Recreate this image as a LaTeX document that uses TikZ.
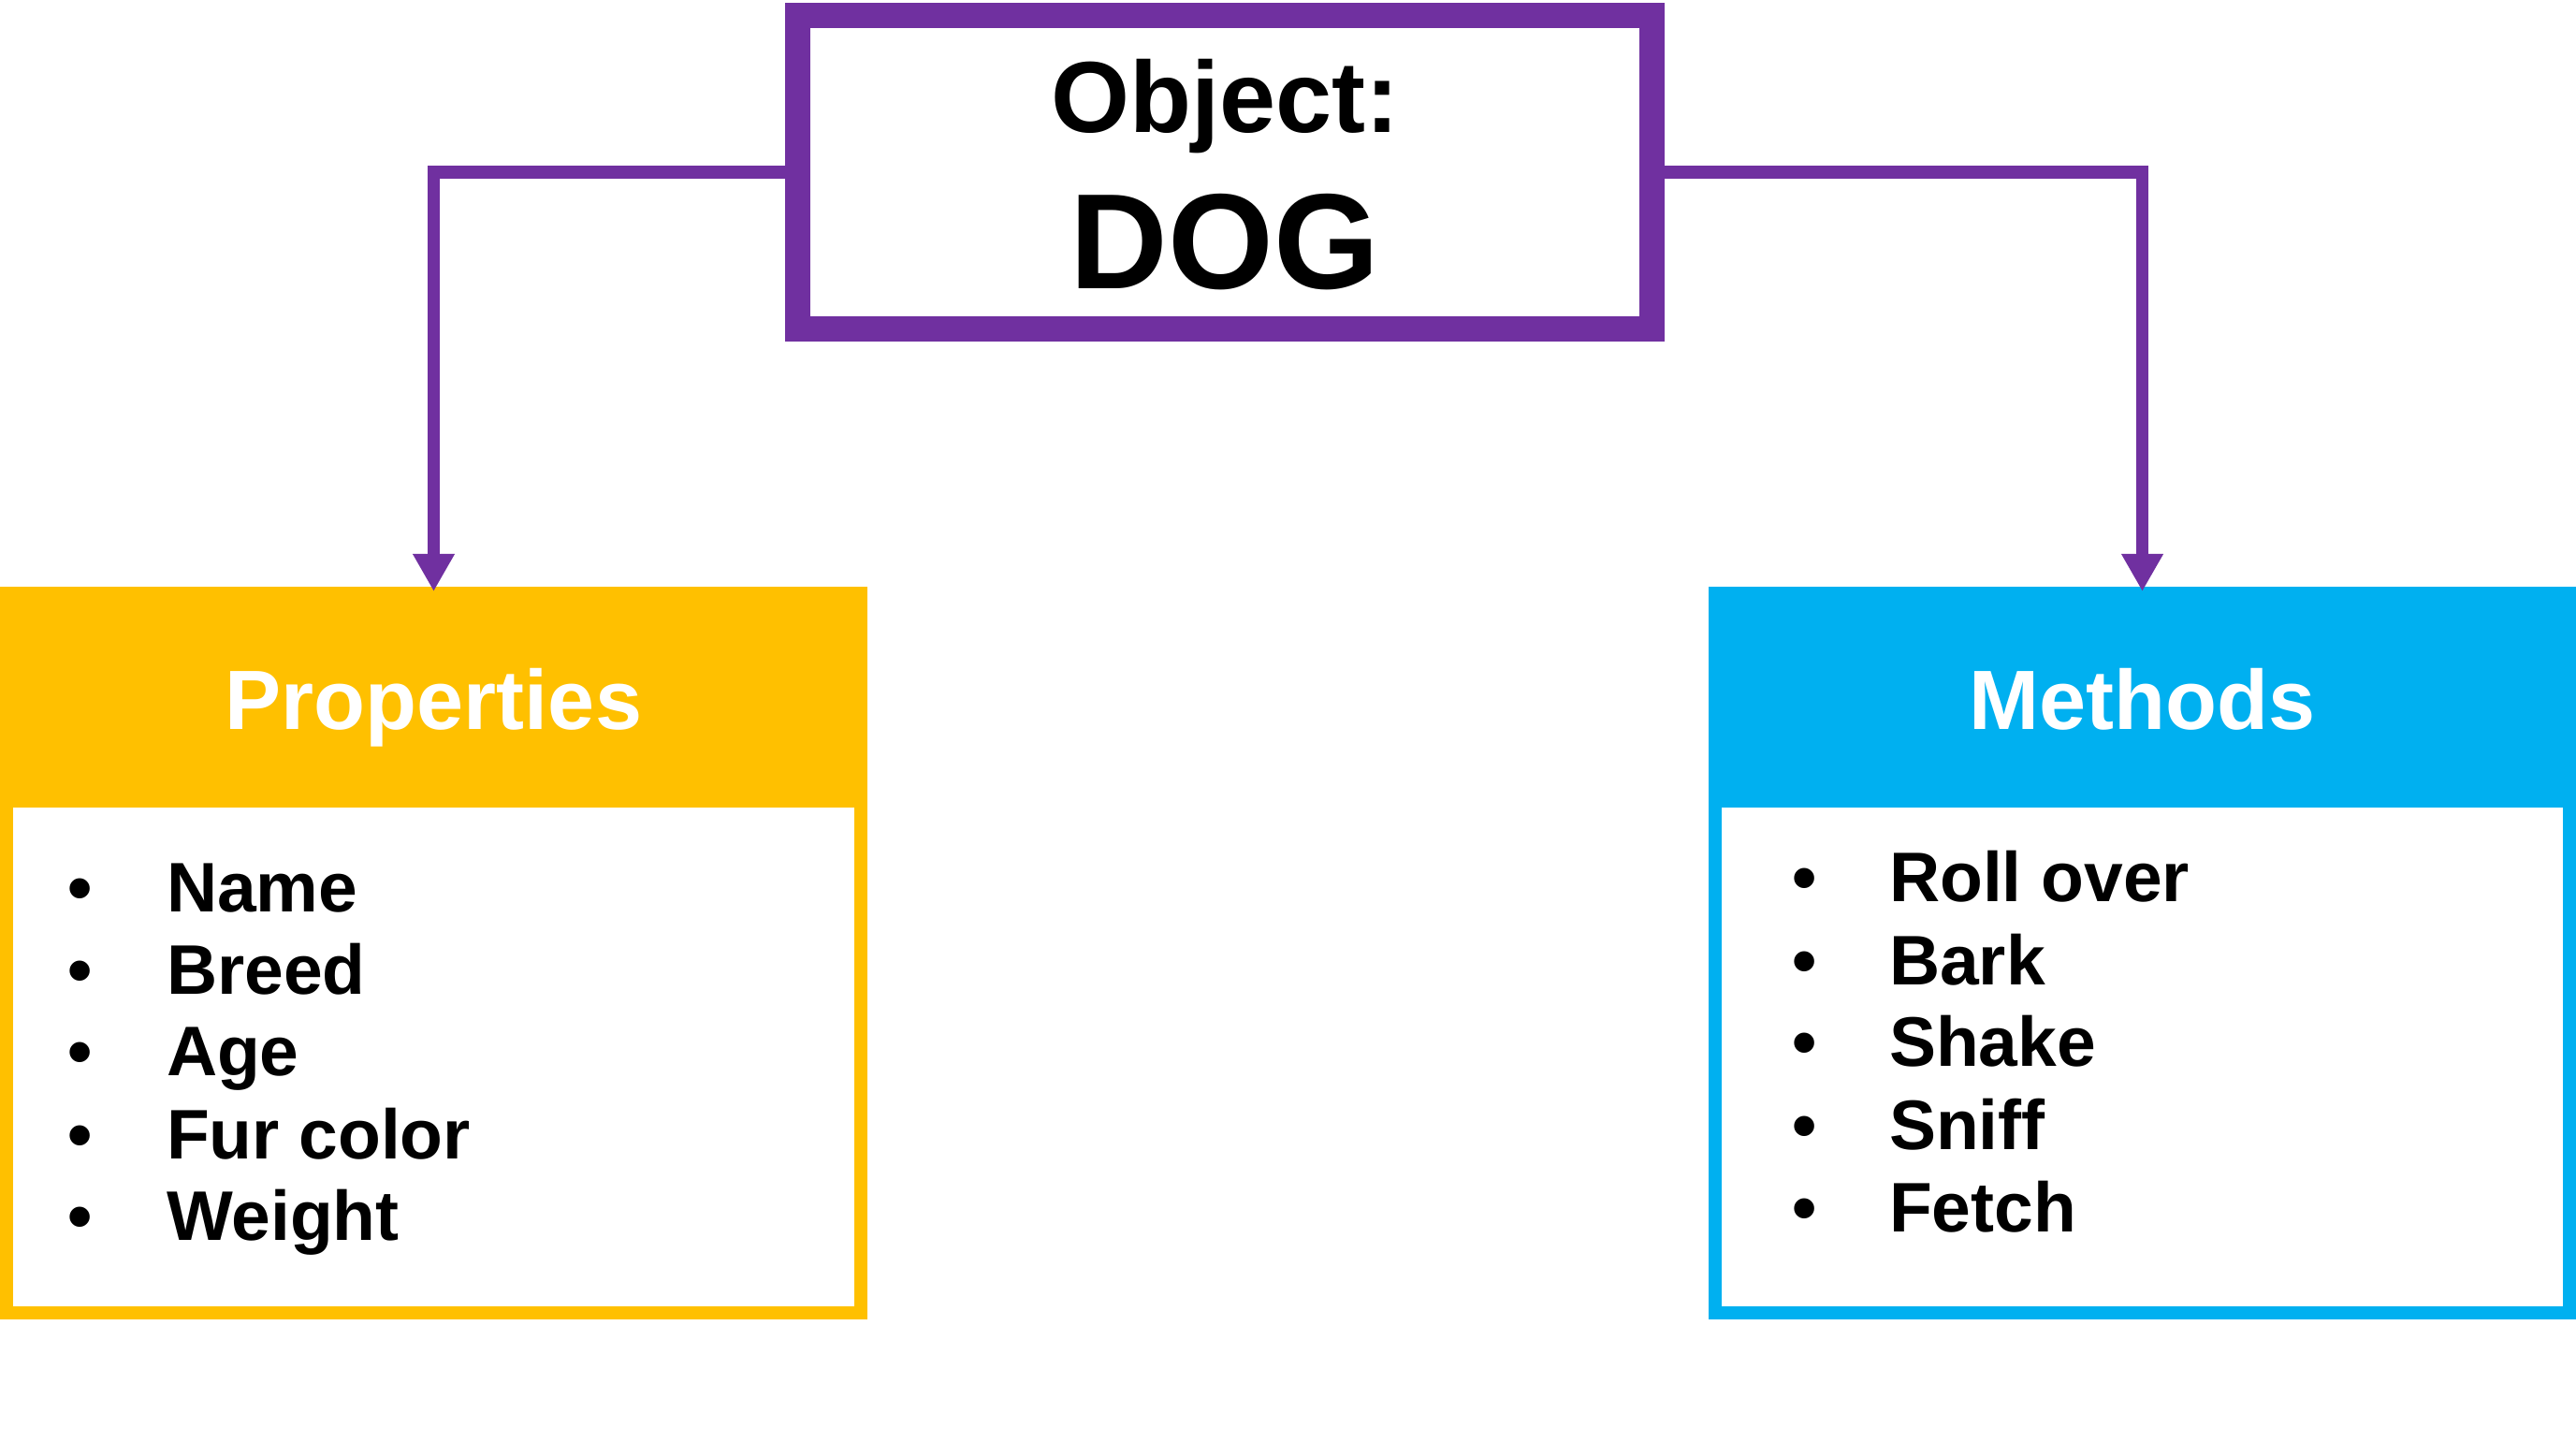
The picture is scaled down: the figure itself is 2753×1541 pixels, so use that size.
\documentclass[tikz,border=0pt]{standalone}
\usepackage{fontspec}
\setmainfont{Liberation Sans}
\usetikzlibrary{arrows.meta}

\definecolor{objpurple}{HTML}{7030A0}
\definecolor{propgold}{HTML}{FFC000}
\definecolor{methblue}{HTML}{00B0F0}

\tikzset{
  objbox/.style={draw=objpurple, line width=5.4pt, fill=white, inner sep=0pt,
    minimum width=182.6pt, minimum height=66.9pt},
  listbox/.style={line width=2.8pt, fill=white, inner sep=0pt,
    minimum width=182.6pt, minimum height=153.8pt},
  conn/.style={draw=objpurple, line width=2.7pt,
    -{Triangle[width=8.4pt,length=8pt]}, shorten >=-1pt},
  headtext/.style={anchor=base, inner sep=0pt, text=white,
    font=\fontsize{18}{18}\selectfont\bfseries},
  itemtext/.style={anchor=base west, inner sep=0pt,
    font=\fontsize{15}{15}\selectfont\bfseries},
  bullettext/.style={anchor=base, inner sep=0pt,
    font=\fontsize{15}{15}\selectfont\bfseries}
}

\begin{document}
\begin{tikzpicture}[x=0.2pt,y=-0.2pt]
  \useasboundingbox (0,0) rectangle (2753,1541);

  % object box
  \node[objbox] (dog) at (1309,184.25) {};
  \node[anchor=base, inner sep=0pt, font=\fontsize{21.6}{21.6}\selectfont\bfseries]
    (objlabel) at (1309,142) {Object:};
  \node[anchor=base, inner sep=0pt, font=\fontsize{29}{29}\selectfont\bfseries]
    (doglabel) at (1309,309) {DOG};

  % properties box
  \node[listbox, draw=propgold] (props) at (463.5,1018.5) {};
  \fill[propgold] (0,627) rectangle (927,863);
  \draw[propgold, line width=2.8pt] (7,634) rectangle (920,1403);
  \node[headtext] (propshead) at (463.5,780) {Properties};
  \foreach \txt/\yy [count=\i] in {Name/974, Breed/1062, Age/1149, Fur color/1238, Weight/1325}{
    \node[bullettext] (pb\i) at (86,\yy) {\textbullet};
    \node[itemtext] (pi\i) at (177,\yy) {\txt};
  }

  % methods box
  \node[listbox, draw=methblue] (meths) at (2289.5,1018.5) {};
  \fill[methblue] (1826,627) rectangle (2753,863);
  \draw[methblue, line width=2.8pt] (1833,634) rectangle (2746,1403);
  \node[headtext] (methshead) at (2289.5,780) {Methods};
  \foreach \txt/\yy [count=\i] in {Roll over/964, Bark/1052, Shake/1139, Sniff/1228, Fetch/1316}{
    \node[bullettext] (mb\i) at (1929,\yy) {\textbullet};
    \node[itemtext] (mi\i) at (2018,\yy) {\txt};
  }

  % connectors
  \draw[conn] (dog.west) -| (props.north);
  \draw[conn] (dog.east) -| (meths.north);
\end{tikzpicture}
\end{document}
